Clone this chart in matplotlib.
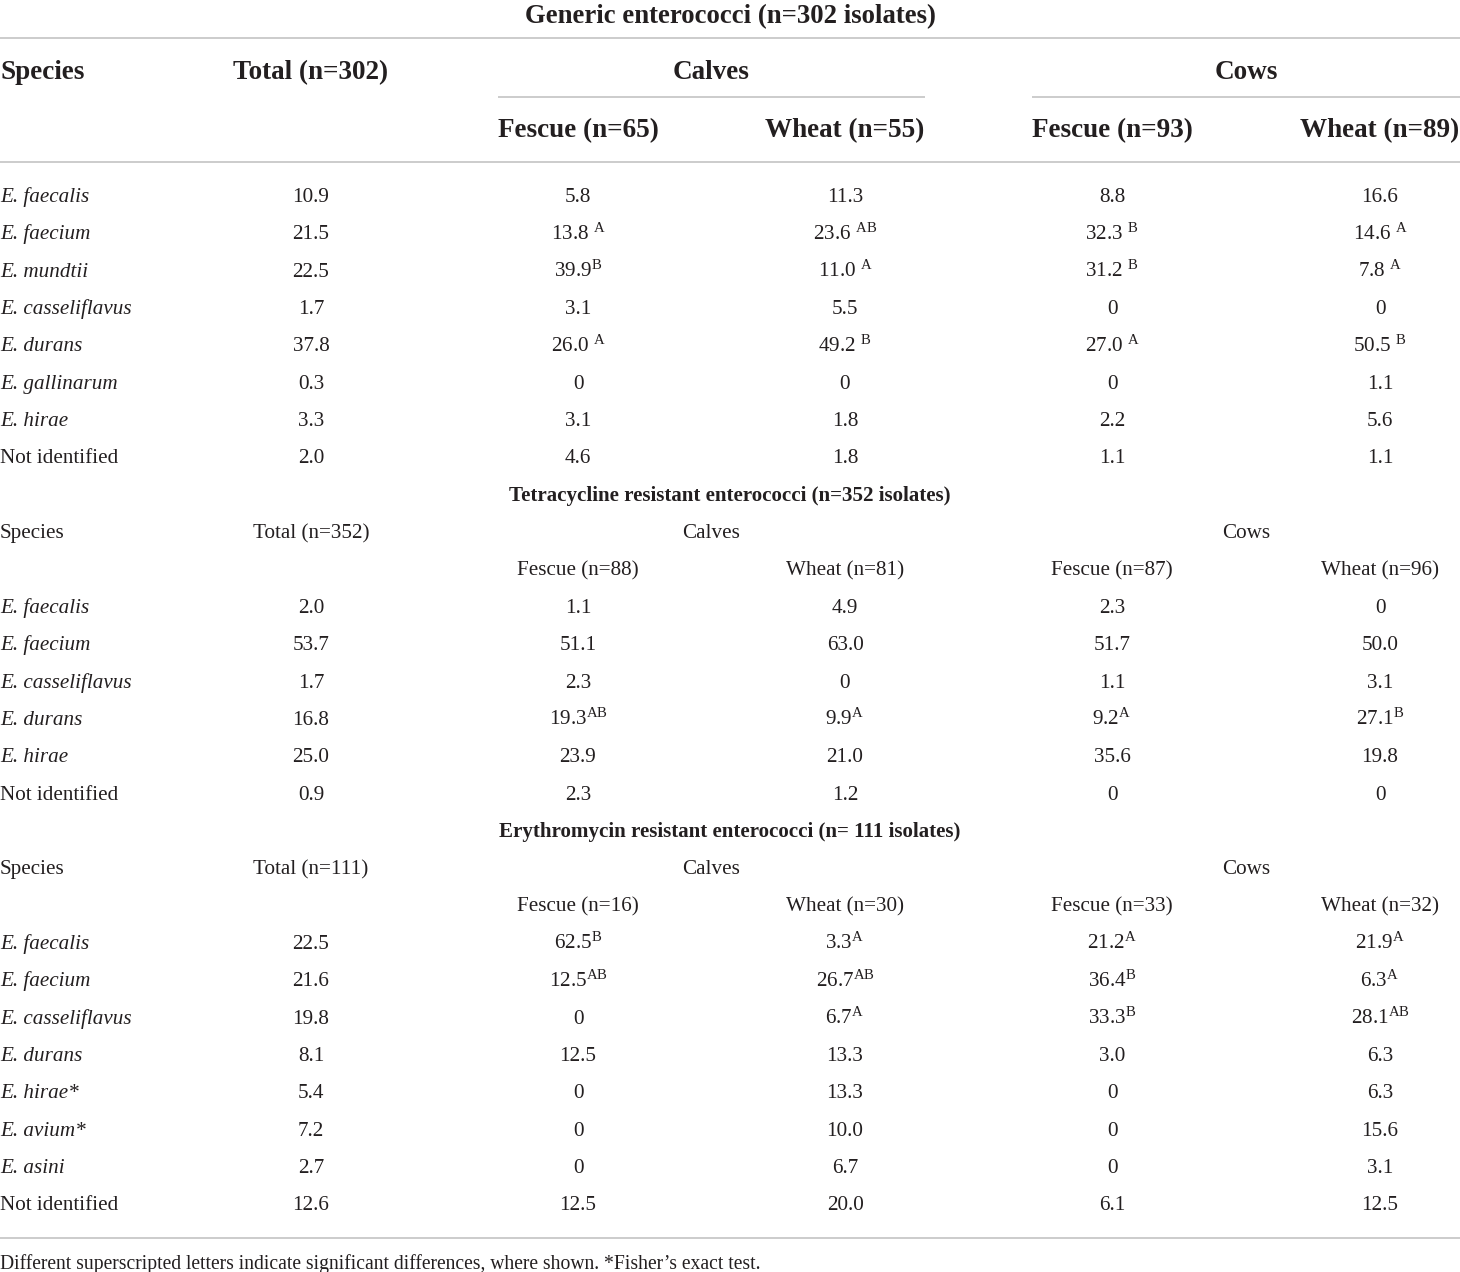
import matplotlib
matplotlib.use("Agg")
import matplotlib.pyplot as plt

plt.rcParams['font.family'] = ['Liberation Serif', 'DejaVu Serif']
plt.rcParams['mathtext.fontset'] = 'custom'
plt.rcParams['mathtext.rm'] = 'Liberation Serif'
plt.rcParams['mathtext.it'] = 'Liberation Serif:italic'
plt.rcParams['mathtext.bf'] = 'Liberation Serif:bold'

# ---------------- data ----------------
col_headers = ["Total", "Calves", "Cows"]
sub_headers = ["Fescue", "Wheat", "Fescue", "Wheat"]

gen_title = "Generic enterococci (n=302 isolates)"
gen_n = [302, 65, 55, 93, 89]
gen_species = ["E. faecalis", "E. faecium", "E. mundtii", "E. casseliflavus",
               "E. durans", "E. gallinarum", "E. hirae", "Not identified"]
gen_total = [10.9, 21.5, 22.5, 1.7, 37.8, 0.3, 3.3, 2.0]
gen_calf_fescue = [5.8, 13.8, 39.9, 3.1, 26.0, 0, 3.1, 4.6]
gen_calf_fescue_sig = ["", " A", "B", "", " A", "", "", ""]
gen_calf_wheat = [11.3, 23.6, 11.0, 5.5, 49.2, 0, 1.8, 1.8]
gen_calf_wheat_sig = ["", " AB", " A", "", " B", "", "", ""]
gen_cow_fescue = [8.8, 32.3, 31.2, 0, 27.0, 0, 2.2, 1.1]
gen_cow_fescue_sig = ["", " B", " B", "", " A", "", "", ""]
gen_cow_wheat = [16.6, 14.6, 7.8, 0, 50.5, 1.1, 5.6, 1.1]
gen_cow_wheat_sig = ["", " A", " A", "", " B", "", "", ""]

tet_title = "Tetracycline resistant enterococci (n=352 isolates)"
tet_n = [352, 88, 81, 87, 96]
tet_species = ["E. faecalis", "E. faecium", "E. casseliflavus", "E. durans",
               "E. hirae", "Not identified"]
tet_total = [2.0, 53.7, 1.7, 16.8, 25.0, 0.9]
tet_calf_fescue = [1.1, 51.1, 2.3, 19.3, 23.9, 2.3]
tet_calf_fescue_sig = ["", "", "", "AB", "", ""]
tet_calf_wheat = [4.9, 63.0, 0, 9.9, 21.0, 1.2]
tet_calf_wheat_sig = ["", "", "", "A", "", ""]
tet_cow_fescue = [2.3, 51.7, 1.1, 9.2, 35.6, 0]
tet_cow_fescue_sig = ["", "", "", "A", "", ""]
tet_cow_wheat = [0, 50.0, 3.1, 27.1, 19.8, 0]
tet_cow_wheat_sig = ["", "", "", "B", "", ""]

ery_title = "Erythromycin resistant enterococci (n= 111 isolates)"
ery_n = [111, 16, 30, 33, 32]
ery_species = ["E. faecalis", "E. faecium", "E. casseliflavus", "E. durans",
               "E. hirae*", "E. avium*", "E. asini", "Not identified"]
ery_total = [22.5, 21.6, 19.8, 8.1, 5.4, 7.2, 2.7, 12.6]
ery_calf_fescue = [62.5, 12.5, 0, 12.5, 0, 0, 0, 12.5]
ery_calf_fescue_sig = ["B", "AB", "", "", "", "", "", ""]
ery_calf_wheat = [3.3, 26.7, 6.7, 13.3, 13.3, 10.0, 6.7, 20.0]
ery_calf_wheat_sig = ["A", "AB", "A", "", "", "", "", ""]
ery_cow_fescue = [21.2, 36.4, 33.3, 3.0, 0, 0, 0, 6.1]
ery_cow_fescue_sig = ["A", "B", "B", "", "", "", "", ""]
ery_cow_wheat = [21.9, 6.3, 28.1, 6.3, 6.3, 15.6, 3.1, 12.5]
ery_cow_wheat_sig = ["A", "A", "AB", "", "", "", "", ""]

footnote = ("Different superscripted letters indicate significant differences, "
            "where shown. *Fisher\u2019s exact test.")

# ---------------- layout ----------------
W, H = 1460, 1272
fig = plt.figure(figsize=(W / 100, H / 100), dpi=100)
ax = fig.add_axes([0, 0, 1, 1])
ax.set_xlim(0, W)
ax.set_ylim(H, 0)
ax.axis('off')

TXT = '#231f20'
LINE = '#c8c8c8'
BODY = 15.2
HEAD = 19.5
TITLE = 19.3
STITLE = 15.1
FOOT = 14.1

COLS = [311, 578, 845, 1112, 1380]
GROUP_X = [711, 1246]
ROW0, STEP = 195, 37.35


def put(x, yc, s, size, ha='center', weight='normal', style='normal'):
    em = size / 0.72
    ax.text(x, yc + 0.33 * em, s, fontsize=size, ha=ha, va='baseline',
            fontweight=weight, fontstyle=style, color=TXT)


def fmt(v):
    return "0" if v == 0 else f"{v:.1f}"


def cell(v, sig):
    s = fmt(v)
    if sig.strip():
        lead = " " if sig.startswith(" ") else ""
        s = s + lead + r"$^{\mathrm{" + sig.strip() + r"}}$"
    return s


def hline(y, x0=0, x1=W, lw=1.3):
    ax.plot([x0, x1], [y, y], color=LINE, lw=lw, solid_capstyle='butt')


def rows_block(k0, species, total, cols, sigs):
    for i, sp in enumerate(species):
        y = ROW0 + STEP * (k0 + i)
        italic = not sp.startswith("Not")
        put(0, y, sp, BODY, ha='left', style='italic' if italic else 'normal')
        put(COLS[0], y, fmt(total[i]), BODY)
        for j in range(4):
            put(COLS[j + 1], y, cell(cols[j][i], sigs[j][i]), BODY)


# Section 1 ---------------------------------------------------------
put(730, 14, gen_title, TITLE, weight='bold')
hline(38)
put(0, 70, "Species", HEAD, ha='left', weight='bold')
put(COLS[0], 70, f"{col_headers[0]} (n={gen_n[0]})", HEAD, weight='bold')
put(GROUP_X[0], 70, col_headers[1], HEAD, weight='bold')
put(GROUP_X[1], 70, col_headers[2], HEAD, weight='bold')
hline(97, 498, 925)
hline(97, 1032, W)
for j in range(4):
    put(COLS[j + 1], 128, f"{sub_headers[j]} (n={gen_n[j + 1]})", HEAD, weight='bold')
hline(162)
rows_block(0, gen_species, gen_total,
           [gen_calf_fescue, gen_calf_wheat, gen_cow_fescue, gen_cow_wheat],
           [gen_calf_fescue_sig, gen_calf_wheat_sig, gen_cow_fescue_sig, gen_cow_wheat_sig])


def section(k, title, n, species, total, cols, sigs):
    put(730, ROW0 + STEP * k, title, STITLE, weight='bold')
    yh = ROW0 + STEP * (k + 1)
    put(0, yh, "Species", BODY, ha='left')
    put(COLS[0], yh, f"{col_headers[0]} (n={n[0]})", BODY)
    put(GROUP_X[0], yh, col_headers[1], BODY)
    put(GROUP_X[1], yh, col_headers[2], BODY)
    ys = ROW0 + STEP * (k + 2)
    for j in range(4):
        put(COLS[j + 1], ys, f"{sub_headers[j]} (n={n[j + 1]})", BODY)
    rows_block(k + 3, species, total, cols, sigs)


section(8, tet_title, tet_n, tet_species, tet_total,
        [tet_calf_fescue, tet_calf_wheat, tet_cow_fescue, tet_cow_wheat],
        [tet_calf_fescue_sig, tet_calf_wheat_sig, tet_cow_fescue_sig, tet_cow_wheat_sig])
section(17, ery_title, ery_n, ery_species, ery_total,
        [ery_calf_fescue, ery_calf_wheat, ery_cow_fescue, ery_cow_wheat],
        [ery_calf_fescue_sig, ery_calf_wheat_sig, ery_cow_fescue_sig, ery_cow_wheat_sig])

hline(1238)
put(0, 1263, footnote, FOOT, ha='left')

fig.savefig("out.png", dpi=100, facecolor='white')
